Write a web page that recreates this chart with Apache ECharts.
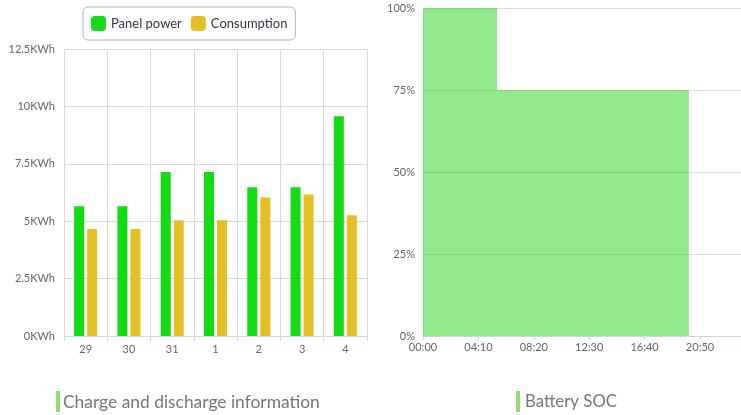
<!DOCTYPE html>
<html>
<head>
<meta charset="utf-8">
<script src="https://cdn.jsdelivr.net/npm/echarts@6/dist/echarts.min.js"></script>
<style>
html,body{margin:0;padding:0;background:#fff;}
#chart{width:741px;height:415px;}
</style>
</head>
<body>
<div id="chart"></div>
<script>
// ---- data ----
const days = ['29', '30', '31', '1', '2', '3', '4'];
const panelPower = [5.65, 5.65, 7.14, 7.14, 6.48, 6.48, 9.57];
const consumption = [4.66, 4.66, 5.04, 5.04, 6.03, 6.16, 5.26];
const energyAxis = { min: 0, max: 12.5, interval: 2.5, unit: 'KWh' };
const socMinutes = [0, 335, 1200];
const socValues = [100, 75, 75];
const socAxis = { min: 0, max: 1435, interval: 250 };
const percentAxis = { min: 0, max: 100, interval: 25 };
const leftTitle = 'Charge and discharge information';
const rightTitle = 'Battery SOC';

const FONT = 'Lato';
function hhmm(m) {
  const h = Math.floor(m / 60), mm = m % 60;
  return String(h).padStart(2, '0') + ':' + String(mm).padStart(2, '0');
}

const chart = echarts.init(document.getElementById('chart'), null, { renderer: 'canvas' });
chart.setOption({
  animation: false,
  backgroundColor: '#fff',
  textStyle: { fontFamily: FONT },
  legend: {
    left: 83, top: 7,
    padding: [9, 8, 9, 8],
    itemWidth: 15, itemHeight: 15, itemGap: 9,
    borderColor: '#b5b5b5', borderWidth: 1, borderRadius: 5,
    icon: 'roundRect',
    textStyle: { fontSize: 13, color: '#333646', fontFamily: FONT },
    data: ['Panel power', 'Consumption']
  },
  grid: [
    { left: 64, top: 49, width: 303, height: 287 },
    { left: 423, top: 8, width: 323, height: 328 }
  ],
  xAxis: [
    {
      gridIndex: 0, type: 'category', data: days, boundaryGap: true,
      axisLine: { lineStyle: { color: '#ccd6eb' } },
      axisTick: { show: true, length: 5, lineStyle: { color: '#ccd6eb' } },
      axisLabel: { color: '#666', fontSize: 11, margin: 8, fontFamily: FONT },
      splitLine: { show: true, lineStyle: { color: '#d9d9d9' } }
    },
    {
      gridIndex: 1, type: 'value', min: socAxis.min, max: socAxis.max, interval: socAxis.interval,
      axisLine: { show: true, lineStyle: { color: '#ccd6eb' } },
      axisTick: { show: true, length: 4, lineStyle: { color: '#ccd6eb' } },
      axisLabel: { color: '#666', fontSize: 11, margin: 6, showMaxLabel: false, fontFamily: FONT,
        formatter: v => hhmm(v) },
      splitLine: { show: false }
    }
  ],
  yAxis: [
    {
      gridIndex: 0, type: 'value', min: energyAxis.min, max: energyAxis.max, interval: energyAxis.interval,
      axisLine: { show: false }, axisTick: { show: false },
      axisLabel: { color: '#666', fontSize: 11, margin: 9, fontFamily: FONT,
        formatter: v => v + energyAxis.unit },
      splitLine: { show: true, lineStyle: { color: '#d9d9d9' } }
    },
    {
      gridIndex: 1, type: 'value', min: percentAxis.min, max: percentAxis.max, interval: percentAxis.interval,
      axisLine: { show: true, lineStyle: { color: '#dde3ee' } }, axisTick: { show: false },
      axisLabel: { color: '#666', fontSize: 11, margin: 8, fontFamily: FONT,
        formatter: v => v + '%' },
      splitLine: { show: true, lineStyle: { color: '#dcdcdc' } }
    }
  ],
  series: [
    {
      name: 'Panel power', type: 'bar', xAxisIndex: 0, yAxisIndex: 0,
      data: panelPower, barWidth: 10, barGap: '30%',
      itemStyle: { color: '#14dc14' }
    },
    {
      name: 'Consumption', type: 'bar', xAxisIndex: 0, yAxisIndex: 0,
      data: consumption, barWidth: 10, barGap: '30%',
      itemStyle: { color: '#e5c025' }
    },
    {
      name: 'Battery SOC', type: 'line', xAxisIndex: 1, yAxisIndex: 1,
      step: 'end', symbol: 'none',
      data: socMinutes.map((m, i) => [m, socValues[i]]),
      lineStyle: { width: 0, color: 'rgba(41,209,25,0.5)' },
      itemStyle: { color: 'rgba(41,209,25,0.5)' },
      areaStyle: { color: 'rgba(41,209,25,0.5)', opacity: 1 }
    }
  ],
  graphic: [
    { type: 'rect', shape: { x: 56, y: 391, width: 4, height: 21 }, style: { fill: '#8fdf6a' } },
    { type: 'text', x: 63, y: 402, style: { text: leftTitle, fill: '#777', font: '17.4px ' + FONT, textVerticalAlign: 'middle' } },
    { type: 'rect', shape: { x: 516, y: 391, width: 4, height: 21 }, style: { fill: '#8fdf6a' } },
    { type: 'text', x: 525, y: 402, style: { text: rightTitle, fill: '#777', font: '16.8px ' + FONT, textVerticalAlign: 'middle' } }
  ]
});
</script>
</body>
</html>
